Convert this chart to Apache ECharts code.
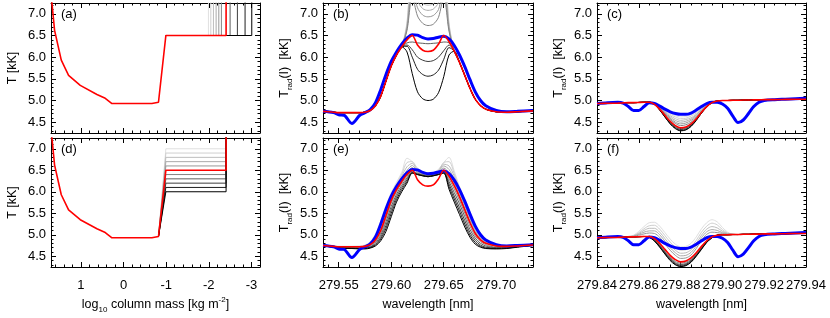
<!DOCTYPE html>
<html>
<head>
<meta charset="utf-8">
<script src="https://cdn.jsdelivr.net/npm/echarts@6.0.0/dist/echarts.min.js"></script>
<style>
html,body{margin:0;padding:0;background:#ffffff;}
#chart{width:830px;height:318px;}
</style>
</head>
<body>
<div id="chart"></div>
<script>
// ================= DATA =================
// ---- panels (a)/(d): temperature model vs log10 column mass ----
const massRed = [1.70, 1.616, 1.459, 1.288, 1.014, 0.623, 0.428, 0.271, -0.665, -0.82, -0.993, -2.405, -2.405];
const tempRed = [7.47, 6.62, 5.93, 5.58, 5.35, 5.14, 5.05, 4.93, 4.93, 4.96, 6.5, 6.5, 8.0];
const massRiseStart = -0.82, tempRiseStart = 4.96;
const massPlateauStart = -0.993, tempPlateauRed = 6.5;
const massTRRed = -2.405, tempTop = 8.0;
// (a): transition-region position of the gray models (light -> dark)
const massTRFamily = [-1.991, -2.047, -2.108, -2.171, -2.234, -2.295, -2.499, -2.670, -2.850, -3.007];
// (d): plateau temperature of the gray models (light -> dark)
const plateauFamily = [7.0, 6.9, 6.8, 6.7, 6.6, 6.4, 6.3, 6.2, 6.1, 6.0];

// ---- panels (b)/(e): Mg II k ----
const wlK = [279.535, 279.545, 279.55, 279.555, 279.5625, 279.57, 279.575, 279.58, 279.585, 279.59,
  279.595, 279.60, 279.605, 279.61, 279.615, 279.62, 279.625, 279.63, 279.635, 279.64,
  279.645, 279.65, 279.655, 279.66, 279.665, 279.67, 279.675, 279.68, 279.685, 279.69,
  279.70, 279.71, 279.72, 279.735];
const redK = [4.75, 4.73, 4.72, 4.72, 4.72, 4.72, 4.73, 4.77, 4.88, 5.10,
  5.45, 5.80, 6.05, 6.24, 6.40, 6.50, 6.28, 6.16, 6.13, 6.16,
  6.30, 6.50, 6.36, 6.14, 5.88, 5.58, 5.28, 5.03, 4.88, 4.80,
  4.74, 4.73, 4.74, 4.76];
const blueK = [4.75, 4.72, 4.67, 4.66, 4.47, 4.66, 4.72, 4.79, 4.95, 5.25,
  5.60, 5.90, 6.12, 6.30, 6.44, 6.52, 6.51, 6.45, 6.42, 6.43,
  6.46, 6.48, 6.42, 6.27, 6.05, 5.78, 5.48, 5.20, 5.00, 4.88,
  4.77, 4.74, 4.75, 4.77];
// (b) gray models: core values at 279.615 ... 279.655 (wings coincide with red)
const coreB1 = [6.82, 8.40, 7.80, 7.64, 7.60, 7.63, 7.80, 8.40, 6.80];
const coreB2 = [6.78, 8.20, 7.62, 7.44, 7.40, 7.43, 7.60, 8.20, 6.76];
const coreB3 = [6.74, 8.00, 7.44, 7.24, 7.20, 7.23, 7.40, 8.00, 6.72];
const coreB4 = [6.70, 7.80, 7.30, 7.12, 7.08, 7.11, 7.26, 7.80, 6.68];
const coreB5 = [6.66, 7.60, 7.14, 6.97, 6.93, 6.96, 7.10, 7.60, 6.64];
const coreB6 = [6.62, 7.40, 6.95, 6.78, 6.73, 6.76, 6.92, 7.40, 6.60];
const coreB7 = [6.33, 6.35, 6.33, 6.32, 6.31, 6.32, 6.33, 6.35, 6.33];
const coreB8 = [6.28, 6.17, 6.00, 5.93, 5.90, 5.92, 6.00, 6.15, 6.28];
const coreB9 = [6.25, 6.00, 5.72, 5.60, 5.56, 5.59, 5.70, 5.95, 6.22];
const coreB10 = [6.12, 5.62, 5.20, 5.04, 5.00, 5.03, 5.18, 5.55, 6.05];
// (e) gray models (plateau 7.0 ... 6.0)
const profE1 = [4.76, 4.74, 4.73, 4.73, 4.73, 4.74, 4.76, 4.84, 5.02, 5.32, 5.68, 5.98, 6.22, 6.45, 6.78, 6.70, 6.55, 6.45, 6.42, 6.44, 6.52, 6.68, 6.80, 6.48, 6.12, 5.82, 5.52, 5.24, 5.04, 4.90, 4.76, 4.74, 4.75, 4.77];
const profE2 = [4.76, 4.74, 4.73, 4.73, 4.73, 4.73, 4.75, 4.82, 4.99, 5.27, 5.63, 5.94, 6.18, 6.41, 6.68, 6.70, 6.52, 6.44, 6.41, 6.43, 6.50, 6.68, 6.70, 6.42, 6.08, 5.78, 5.48, 5.20, 5.01, 4.88, 4.75, 4.73, 4.74, 4.77];
const profE3 = [4.75, 4.73, 4.72, 4.72, 4.72, 4.72, 4.74, 4.80, 4.96, 5.22, 5.58, 5.90, 6.14, 6.36, 6.58, 6.66, 6.50, 6.43, 6.40, 6.42, 6.48, 6.64, 6.60, 6.36, 6.04, 5.74, 5.43, 5.15, 4.97, 4.85, 4.74, 4.72, 4.74, 4.76];
const profE4 = [4.75, 4.73, 4.72, 4.72, 4.72, 4.72, 4.73, 4.79, 4.93, 5.18, 5.53, 5.86, 6.10, 6.31, 6.50, 6.61, 6.47, 6.41, 6.39, 6.41, 6.46, 6.60, 6.52, 6.28, 5.98, 5.68, 5.38, 5.10, 4.93, 4.83, 4.74, 4.72, 4.73, 4.76];
const profE5 = [4.75, 4.73, 4.72, 4.72, 4.71, 4.71, 4.72, 4.77, 4.90, 5.13, 5.48, 5.82, 6.06, 6.27, 6.45, 6.56, 6.45, 6.40, 6.38, 6.40, 6.45, 6.55, 6.44, 6.20, 5.92, 5.62, 5.32, 5.06, 4.90, 4.81, 4.73, 4.72, 4.73, 4.76];
const profE6 = [4.75, 4.72, 4.71, 4.71, 4.70, 4.70, 4.71, 4.74, 4.84, 5.04, 5.38, 5.74, 6.00, 6.20, 6.36, 6.48, 6.43, 6.39, 6.37, 6.39, 6.43, 6.48, 6.30, 6.06, 5.80, 5.50, 5.20, 4.97, 4.84, 4.77, 4.71, 4.71, 4.73, 4.76];
const profE7 = [4.74, 4.72, 4.70, 4.70, 4.70, 4.69, 4.70, 4.72, 4.81, 4.99, 5.30, 5.66, 5.94, 6.15, 6.32, 6.46, 6.42, 6.39, 6.37, 6.39, 6.42, 6.46, 6.24, 5.98, 5.72, 5.42, 5.12, 4.92, 4.80, 4.74, 4.70, 4.70, 4.72, 4.76];
const profE8 = [4.74, 4.71, 4.70, 4.69, 4.69, 4.68, 4.69, 4.71, 4.78, 4.94, 5.22, 5.58, 5.88, 6.10, 6.28, 6.45, 6.41, 6.38, 6.36, 6.38, 6.41, 6.45, 6.18, 5.90, 5.63, 5.33, 5.05, 4.87, 4.76, 4.71, 4.69, 4.69, 4.72, 4.76];
const profE9 = [4.74, 4.71, 4.69, 4.69, 4.68, 4.68, 4.68, 4.70, 4.76, 4.90, 5.15, 5.50, 5.82, 6.05, 6.24, 6.44, 6.40, 6.37, 6.35, 6.37, 6.40, 6.44, 6.12, 5.83, 5.55, 5.25, 4.99, 4.82, 4.73, 4.69, 4.68, 4.69, 4.72, 4.75];
const profE10 = [4.74, 4.71, 4.69, 4.68, 4.68, 4.67, 4.67, 4.69, 4.74, 4.86, 5.08, 5.42, 5.76, 6.00, 6.20, 6.43, 6.40, 6.37, 6.35, 6.37, 6.40, 6.43, 6.06, 5.76, 5.47, 5.18, 4.94, 4.78, 4.71, 4.68, 4.67, 4.68, 4.71, 4.75];

// ---- panels (c)/(f): subordinate line ----
const wlS = [279.840, 279.845, 279.850, 279.8525, 279.855, 279.8575, 279.860, 279.8625, 279.865, 279.8675,
  279.870, 279.8725, 279.875, 279.8775, 279.880, 279.8825, 279.885, 279.8875, 279.890, 279.8925,
  279.895, 279.8975, 279.900, 279.9025, 279.905, 279.9075, 279.910, 279.9125, 279.915, 279.9175,
  279.920, 279.925, 279.930, 279.935, 279.940];
const redS = [4.93, 4.935, 4.94, 4.945, 4.95, 4.95, 4.955, 4.96, 4.96, 4.91,
  4.80, 4.66, 4.52, 4.42, 4.37, 4.39, 4.46, 4.58, 4.73, 4.86,
  4.95, 4.99, 5.00, 5.00, 5.005, 5.005, 5.01, 5.01, 5.015, 5.015,
  5.02, 5.02, 5.025, 5.03, 5.03];
const blueS = [4.93, 4.95, 4.96, 4.94, 4.86, 4.77, 4.77, 4.86, 4.95, 4.93,
  4.87, 4.80, 4.74, 4.70, 4.68, 4.68, 4.71, 4.78, 4.86, 4.93,
  4.96, 4.96, 4.92, 4.82, 4.64, 4.49, 4.55, 4.70, 4.86, 4.96,
  5.00, 5.02, 5.03, 5.04, 5.05];
// (c) gray models: core values at 279.8675 ... 279.8975 (continuum coincides with red)
const coreC1 = [4.93, 4.87, 4.79, 4.71, 4.65, 4.62, 4.63, 4.67, 4.74, 4.83, 4.90, 4.96, 4.99];
const coreC2 = [4.93, 4.86, 4.77, 4.68, 4.62, 4.58, 4.59, 4.64, 4.71, 4.81, 4.89, 4.96, 4.99];
const coreC3 = [4.92, 4.85, 4.75, 4.65, 4.58, 4.54, 4.56, 4.60, 4.68, 4.79, 4.88, 4.95, 4.99];
const coreC4 = [4.92, 4.84, 4.73, 4.62, 4.54, 4.50, 4.52, 4.57, 4.66, 4.78, 4.88, 4.95, 4.99];
const coreC5 = [4.92, 4.83, 4.71, 4.59, 4.50, 4.46, 4.48, 4.54, 4.63, 4.76, 4.87, 4.95, 4.99];
const coreC6 = [4.91, 4.82, 4.69, 4.56, 4.47, 4.42, 4.44, 4.50, 4.61, 4.75, 4.87, 4.95, 4.99];
const coreC7 = [4.91, 4.79, 4.64, 4.50, 4.40, 4.35, 4.37, 4.44, 4.57, 4.72, 4.86, 4.95, 4.99];
const coreC8 = [4.91, 4.79, 4.63, 4.49, 4.38, 4.33, 4.35, 4.43, 4.56, 4.72, 4.86, 4.95, 4.99];
const coreC9 = [4.91, 4.78, 4.62, 4.47, 4.36, 4.31, 4.33, 4.41, 4.55, 4.71, 4.85, 4.95, 4.99];
const coreC10 = [4.91, 4.78, 4.62, 4.46, 4.35, 4.30, 4.32, 4.40, 4.54, 4.71, 4.85, 4.95, 4.99];
// (f) gray models: core values at 279.855 ... 279.905
const coreF1 = [4.96, 4.99, 5.08, 5.19, 5.28, 5.29, 5.20, 5.05, 4.90, 4.78, 4.72, 4.73, 4.80, 4.95, 5.14, 5.28, 5.35, 5.30, 5.17, 5.06, 5.01];
const coreF2 = [4.96, 4.98, 5.05, 5.14, 5.21, 5.22, 5.13, 4.98, 4.83, 4.71, 4.64, 4.65, 4.72, 4.87, 5.06, 5.20, 5.27, 5.23, 5.12, 5.04, 5.01];
const coreF3 = [4.96, 4.97, 5.03, 5.10, 5.15, 5.15, 5.06, 4.91, 4.76, 4.64, 4.57, 4.58, 4.65, 4.80, 4.99, 5.13, 5.19, 5.16, 5.08, 5.03, 5.01];
const coreF4 = [4.95, 4.97, 5.01, 5.06, 5.09, 5.09, 5.00, 4.85, 4.70, 4.58, 4.51, 4.52, 4.59, 4.74, 4.93, 5.07, 5.12, 5.10, 5.05, 5.02, 5.01];
const coreF5 = [4.95, 4.96, 4.99, 5.02, 5.04, 5.03, 4.94, 4.79, 4.64, 4.52, 4.45, 4.46, 4.53, 4.68, 4.87, 5.01, 5.06, 5.05, 5.03, 5.01, 5.01];
const coreF6 = [4.95, 4.95, 4.955, 4.96, 4.95, 4.89, 4.77, 4.62, 4.48, 4.38, 4.34, 4.36, 4.43, 4.56, 4.71, 4.85, 4.94, 4.99, 5.00, 5.00, 5.005];
const coreF7 = [4.95, 4.95, 4.955, 4.96, 4.95, 4.88, 4.75, 4.60, 4.46, 4.35, 4.31, 4.33, 4.41, 4.54, 4.70, 4.84, 4.94, 4.99, 5.00, 5.00, 5.005];
const coreF8 = [4.95, 4.95, 4.955, 4.96, 4.94, 4.87, 4.74, 4.58, 4.44, 4.33, 4.29, 4.31, 4.39, 4.52, 4.68, 4.83, 4.93, 4.99, 5.00, 5.00, 5.005];
const coreF9 = [4.95, 4.95, 4.955, 4.96, 4.94, 4.86, 4.72, 4.56, 4.42, 4.31, 4.27, 4.29, 4.37, 4.51, 4.67, 4.83, 4.93, 4.99, 5.00, 5.00, 5.005];
const coreF10 = [4.95, 4.95, 4.955, 4.96, 4.94, 4.85, 4.71, 4.55, 4.40, 4.30, 4.26, 4.28, 4.36, 4.50, 4.66, 4.82, 4.93, 4.99, 5.00, 5.00, 5.005];

// ---- tick labels ----
const massTicks = [1, 0, -1, -2, -3];
const wlTicksK = [279.55, 279.60, 279.65, 279.70];
const wlTicksS = [279.84, 279.86, 279.88, 279.90, 279.92, 279.94];
const tempTicks = [4.5, 5.0, 5.5, 6.0, 6.5, 7.0];

// ================= BUILD =================
const FONT = "'Liberation Sans', Arial, Helvetica, sans-serif";
const grays = ['#e0e0e0','#cfcfcf','#bdbdbd','#ababab','#989898','#848484','#5e5e5e','#3e3e3e','#1f1f1f','#000000'];
const RED = '#ff0000', BLUE = '#0000ff';
const TMIN = 4.25, TMAX = 7.25;

function minorList(min, max, step, majors) {
  const out = [];
  const n0 = Math.ceil(min / step - 1e-6), n1 = Math.floor(max / step + 1e-6);
  for (let n = n0; n <= n1; n++) {
    const v = +(n * step).toFixed(6);
    if (!majors.some(m => Math.abs(m - v) < step / 10)) out.push(v);
  }
  return out;
}
function pairs(xs, ys) { return xs.map((x, i) => [x, ys[i]]); }

const rich = {
  n: {fontSize: 12.5, lineHeight: 18, fontFamily: FONT, color: '#000'},
  s: {fontSize: 8, lineHeight: 8, verticalAlign: 'bottom', fontFamily: FONT, color: '#000'},
  p: {fontSize: 8, lineHeight: 8, verticalAlign: 'top', fontFamily: FONT, color: '#000'}
};
const massName = '{n|log}{s|10}{n| column mass [kg m}{p|-2}{n|]}';
const wlName = '{n|wavelength [nm]}';
const tName = '{n|T [kK]}';
const tradName = '{n|T}{s|rad}{n|(I)  [kK]}';

const panels = [
  {id:'(a)', g:{left:51, top:3, width:209, height:130}, xmin:-3.2, xmax:1.7, inv:true, maj:massTicks, step:0.2, dec:0, xl:false, xn:null, yn:tName},
  {id:'(b)', g:{left:323, top:3, width:210, height:130}, xmin:279.535, xmax:279.735, inv:false, maj:wlTicksK, step:0.01, dec:2, xl:false, xn:null, yn:tradName},
  {id:'(c)', g:{left:597, top:3, width:209, height:130}, xmin:279.84, xmax:279.94, inv:false, maj:wlTicksS, step:0.005, dec:2, xl:false, xn:null, yn:tradName},
  {id:'(d)', g:{left:51, top:138, width:209, height:129}, xmin:-3.2, xmax:1.7, inv:true, maj:massTicks, step:0.2, dec:0, xl:true, xn:massName, yn:tName},
  {id:'(e)', g:{left:323, top:138, width:210, height:129}, xmin:279.535, xmax:279.735, inv:false, maj:wlTicksK, step:0.01, dec:2, xl:true, xn:wlName, yn:tradName},
  {id:'(f)', g:{left:597, top:138, width:209, height:129}, xmin:279.84, xmax:279.94, inv:false, maj:wlTicksS, step:0.005, dec:2, xl:true, xn:wlName, yn:tradName}
];

const grid = [], xAxis = [], yAxis = [], title = [], series = [];
const tickLine = {color: '#000', width: 1};
panels.forEach((p, i) => {
  grid.push(Object.assign({containLabel: false}, p.g));
  title.push({text: p.id, left: p.g.left + 10, top: p.g.top + 5, padding: 0,
    textStyle: {fontSize: 13, fontWeight: 'normal', color: '#000', fontFamily: FONT}});
  const xMinor = minorList(p.xmin, p.xmax, p.step, p.maj);
  const yMinor = minorList(TMIN, TMAX, 0.1, tempTicks);
  const xc = {gridIndex: i, type: 'value', min: p.xmin, max: p.xmax, inverse: p.inv, splitLine: {show: false}, silent: true};
  const yc = {gridIndex: i, type: 'value', min: TMIN, max: TMAX, splitLine: {show: false}, silent: true};
  // x axes: bottom major, bottom minor, top major, top minor
  xAxis.push(Object.assign({}, xc, {position: 'bottom',
    axisLine: {show: true, onZero: false, lineStyle: tickLine},
    axisTick: {show: true, inside: true, length: 5, customValues: p.maj, lineStyle: tickLine},
    axisLabel: {show: p.xl, customValues: p.maj, margin: 12, color: '#000', fontSize: 13, fontFamily: FONT,
      formatter: v => Number(v).toFixed(p.dec)},
    name: p.xn || '', nameLocation: 'middle', nameGap: 29, nameTextStyle: {rich: rich}}));
  xAxis.push(Object.assign({}, xc, {position: 'bottom', axisLine: {show: false, onZero: false},
    axisTick: {show: true, inside: true, length: 2.5, customValues: xMinor, lineStyle: tickLine}, axisLabel: {show: false}}));
  xAxis.push(Object.assign({}, xc, {position: 'top', axisLine: {show: true, onZero: false, lineStyle: tickLine},
    axisTick: {show: true, inside: true, length: 5, customValues: p.maj, lineStyle: tickLine}, axisLabel: {show: false}}));
  xAxis.push(Object.assign({}, xc, {position: 'top', axisLine: {show: false, onZero: false},
    axisTick: {show: true, inside: true, length: 2.5, customValues: xMinor, lineStyle: tickLine}, axisLabel: {show: false}}));
  // y axes: left major, left minor, right major, right minor
  yAxis.push(Object.assign({}, yc, {position: 'left',
    axisLine: {show: true, onZero: false, lineStyle: tickLine},
    axisTick: {show: true, inside: true, length: 5, customValues: tempTicks, lineStyle: tickLine},
    axisLabel: {show: true, customValues: tempTicks, margin: 5, color: '#000', fontSize: 13, fontFamily: FONT,
      formatter: v => Number(v).toFixed(1)},
    name: p.yn, nameLocation: 'middle', nameRotate: 90, nameGap: 29, nameTextStyle: {rich: rich}}));
  yAxis.push(Object.assign({}, yc, {position: 'left', axisLine: {show: false, onZero: false},
    axisTick: {show: true, inside: true, length: 2.5, customValues: yMinor, lineStyle: tickLine}, axisLabel: {show: false}}));
  yAxis.push(Object.assign({}, yc, {position: 'right', axisLine: {show: true, onZero: false, lineStyle: tickLine},
    axisTick: {show: true, inside: true, length: 5, customValues: tempTicks, lineStyle: tickLine}, axisLabel: {show: false}}));
  yAxis.push(Object.assign({}, yc, {position: 'right', axisLine: {show: false, onZero: false},
    axisTick: {show: true, inside: true, length: 2.5, customValues: yMinor, lineStyle: tickLine}, axisLabel: {show: false}}));
});

function addLine(pi, data, color, width, z, smooth) {
  series.push({type: 'line', xAxisIndex: 4 * pi, yAxisIndex: 4 * pi, data: data, symbol: 'none', showSymbol: false,
    smooth: smooth, clip: true, silent: true, z: z, lineStyle: {color: color, width: width}, animation: false});
}

// (a)
massTRFamily.forEach((m, k) => addLine(0, [[massPlateauStart, tempPlateauRed], [m, tempPlateauRed], [m, tempTop]], grays[k], 1, 2, false));
addLine(0, pairs(massRed, tempRed), RED, 1.6, 4, false);
// (d)
plateauFamily.forEach((t, k) => addLine(3, [[massRiseStart, tempRiseStart], [massPlateauStart, t], [massTRRed, t], [massTRRed, tempTop]], grays[k], 1, 2, false));
addLine(3, pairs(massRed, tempRed), RED, 1.6, 4, false);
// (b)
const coresB = [coreB1, coreB2, coreB3, coreB4, coreB5, coreB6, coreB7, coreB8, coreB9, coreB10];
coresB.forEach((c, k) => addLine(1, pairs(wlK, redK.slice(0, 14).concat(c, redK.slice(23))), grays[k], 1, 2, 0.3));
addLine(1, pairs(wlK, blueK), BLUE, 3, 3, 0.3);
addLine(1, pairs(wlK, redK), RED, 1.6, 4, 0.3);
// (e)
const profsE = [profE1, profE2, profE3, profE4, profE5, profE6, profE7, profE8, profE9, profE10];
profsE.forEach((c, k) => addLine(4, pairs(wlK, c), grays[k], 1, 2, 0.3));
addLine(4, pairs(wlK, blueK), BLUE, 3, 3, 0.3);
addLine(4, pairs(wlK, redK), RED, 1.6, 4, 0.3);
// (c)
const coresC = [coreC1, coreC2, coreC3, coreC4, coreC5, coreC6, coreC7, coreC8, coreC9, coreC10];
coresC.forEach((c, k) => addLine(2, pairs(wlS, redS.slice(0, 9).concat(c, redS.slice(22))), grays[k], 1, 2, 0.3));
addLine(2, pairs(wlS, blueS), BLUE, 3, 3, 0.3);
addLine(2, pairs(wlS, redS), RED, 1.6, 4, 0.3);
// (f)
const coresF = [coreF1, coreF2, coreF3, coreF4, coreF5, coreF6, coreF7, coreF8, coreF9, coreF10];
coresF.forEach((c, k) => addLine(5, pairs(wlS, redS.slice(0, 4).concat(c, redS.slice(25))), grays[k], 1, 2, 0.3));
addLine(5, pairs(wlS, blueS), BLUE, 3, 3, 0.3);
addLine(5, pairs(wlS, redS), RED, 1.6, 4, 0.3);

const chart = echarts.init(document.getElementById('chart'), null, {renderer: 'canvas'});
chart.setOption({animation: false, backgroundColor: '#ffffff', textStyle: {fontFamily: FONT},
  grid: grid, xAxis: xAxis, yAxis: yAxis, title: title, series: series});
</script>
</body>
</html>
